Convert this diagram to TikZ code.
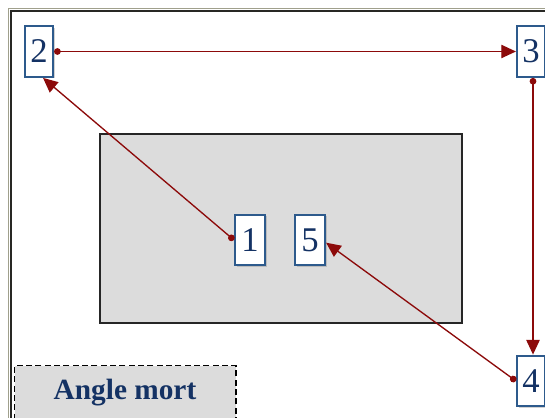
\documentclass[tikz,border=0pt]{standalone}
\usepackage{fontspec}
\setmainfont{Liberation Serif}
\usetikzlibrary{arrows.meta,shadows}
\definecolor{framedark}{RGB}{40,40,36}
\definecolor{frameolive}{RGB}{160,160,140}
\definecolor{boxblue}{RGB}{45,90,140}
\definecolor{textblue}{RGB}{20,50,100}
\definecolor{pathred}{RGB}{140,10,10}
\definecolor{zonegrey}{RGB}{220,220,220}
\tikzset{
  stepbox/.style={draw=boxblue, line width=1.6pt, fill=white,
    minimum width=21pt, minimum height=38pt, inner sep=0pt,
    text=textblue, font=\fontsize{26}{26}\selectfont,
    drop shadow={shadow xshift=1.2pt, shadow yshift=-1.2pt, opacity=0.35, fill=gray}},
  route/.style={draw=pathred, line width=1pt,
    {Circle[length=5pt]}-{Triangle[length=11pt,width=10pt]}},
  zone/.style={draw=black!85, line width=1.1pt, fill=zonegrey},
  blindzone/.style={draw=black, dash pattern=on 4.5pt off 2.5pt, line width=1pt, fill=zonegrey}
}
\begin{document}
\begin{tikzpicture}[x=0.75pt,y=-0.75pt]
  \useasboundingbox (0,0) rectangle (545,417);
  \clip (0,0) rectangle (545,417);
  \fill[white] (0,0) rectangle (545,417);
  % outer frame: olive rim with a dark inner line
  \draw[frameolive, line width=1.4pt] (8.5,8.5) rectangle (600,480);
  \draw[framedark, line width=1.8pt] (11,11) rectangle (600,480);
  % central obstacle
  \draw[zone] (100,134) rectangle (462,323);
  % blind spot label
  \node[blindzone, minimum width=166pt, minimum height=52pt, anchor=north west] (blind) at (14,365) {};
  \node[text=textblue, font=\bfseries\fontsize{22}{22}\selectfont] (blindlabel) at (125,393) {Angle mort};
  % waypoints
  \node[stepbox] (b2) at (39,51.5) {2};
  \node[stepbox] (b3) at (531,51.5) {3};
  \node[stepbox] (b4) at (531,381) {4};
  \node[stepbox, minimum width=22.5pt] (b1) at (250,240) {1};
  \node[stepbox, minimum width=22.5pt] (b5) at (310,240) {5};
  % route
  \draw[route] (b1.west) -- ([xshift=3pt]b2.south);
  \draw[route] (b2.east) -- (b3.west);
  \draw[route] ([xshift=1.5pt]b3.south) -- ([xshift=1.5pt]b4.north);
  \draw[route] (b4.west) -- ([yshift=-2pt]b5.east);
\end{tikzpicture}
\end{document}
